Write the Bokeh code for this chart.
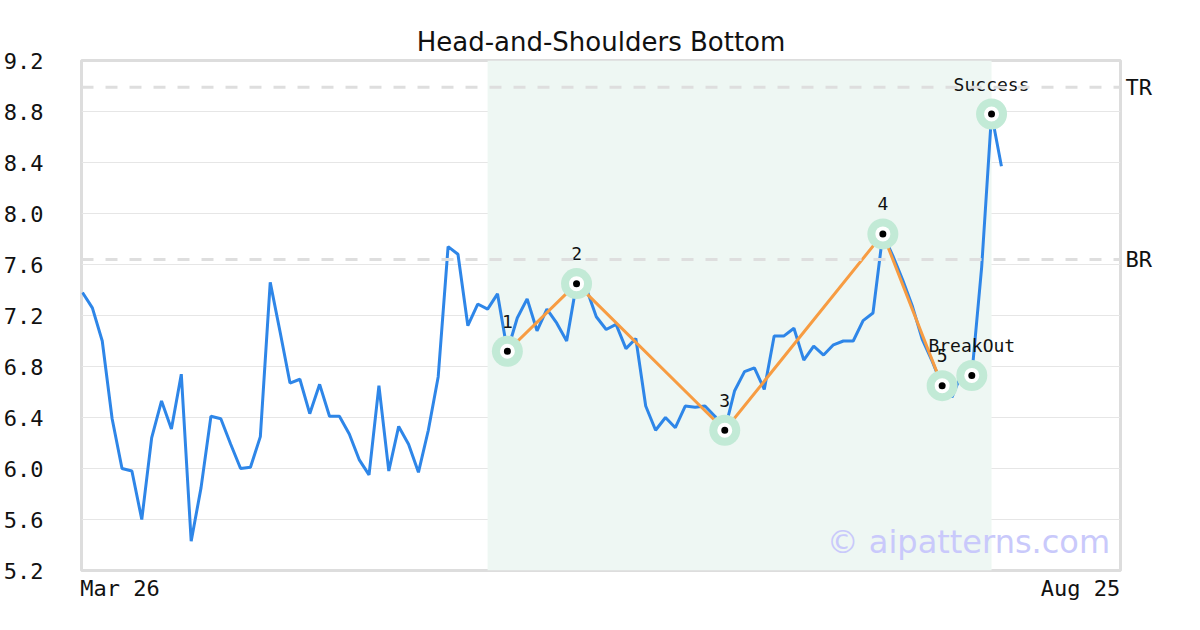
from bokeh.plotting import figure
from bokeh.models import (FixedTicker, LinearAxis, BoxAnnotation, Span, Label,
                          Range1d, ColumnDataSource)
from bokeh.core.properties import value
from bokeh.embed import file_html
from bokeh.resources import INLINE

# ---- data ----
prices = [7.38, 7.26, 7.00, 6.39, 6.00, 5.98, 5.60, 6.24, 6.53, 6.31,
          6.74, 5.43, 5.85, 6.41, 6.39, 6.19, 6.00, 6.01, 6.25, 7.46,
          7.07, 6.67, 6.70, 6.43, 6.66, 6.41, 6.41, 6.27, 6.07, 5.95,
          6.65, 5.98, 6.33, 6.19, 5.97, 6.30, 6.72, 7.74, 7.68, 7.12,
          7.29, 7.25, 7.37, 6.92, 7.18, 7.33, 7.08, 7.25, 7.14, 7.00,
          7.45, 7.41, 7.19, 7.09, 7.13, 6.94, 7.02, 6.49, 6.30, 6.40,
          6.32, 6.49, 6.48, 6.49, 6.41, 6.30, 6.61, 6.76, 6.79, 6.62,
          7.04, 7.04, 7.10, 6.85, 6.96, 6.89, 6.97, 7.00, 7.00, 7.16,
          7.22, 7.84, 7.67, 7.48, 7.27, 7.01, 6.84, 6.65, 6.56, 6.75,
          6.73, 7.58, 8.78, 8.37]
pattern_idx = [43, 50, 65, 81, 87]
pattern_labels = ["1", "2", "3", "4", "5"]
extra_idx = [90, 92]
extra_labels = ["BreakOut", "Success"]
tr_level = 8.99
br_level = 7.64
shade_start, shade_end = 41, 92
n_days = 105
x_tick_labels = ["Mar 26", "Aug 25"]
y_ticks = [5.2, 5.6, 6.0, 6.4, 6.8, 7.2, 7.6, 8.0, 8.4, 8.8, 9.2]

MONO = "DejaVu Sans Mono"
idx = list(range(len(prices)))

p = figure(width=1200, height=630, output_backend="svg", toolbar_location=None,
           x_range=Range1d(-0.1, n_days + 0.05), y_range=Range1d(5.2, 9.2),
           min_border_left=80, min_border_right=80, min_border_top=60,
           min_border_bottom=60, title="Head-and-Shoulders Bottom")
p.title.align = "center"
p.title.text_font = "DejaVu Sans"
p.title.text_font_size = "26px"
p.title.text_font_style = "normal"
p.title.text_color = "#111111"
p.title.standoff = 8
p.outline_line_color = "#dddddd"
p.outline_line_width = 3
p.background_fill_color = "white"
p.border_fill_color = "white"

p.xgrid.visible = False
p.ygrid.grid_line_color = "#e6e6e6"
p.ygrid.grid_line_width = 1

# left axis
ya = p.yaxis[0]
ya.ticker = FixedTicker(ticks=y_ticks)
ya.major_label_overrides = {t: f"{t:.1f}" for t in y_ticks}
ya.axis_line_color = None
ya.major_tick_line_color = None
ya.minor_tick_line_color = None
ya.major_tick_out = 0
ya.major_label_standoff = 38
ya.major_label_text_font = MONO
ya.major_label_text_font_size = "22px"
ya.major_label_text_color = "#111111"

# bottom axis
xa = p.xaxis[0]
xpos = [3.8, n_days - 4.0]
xa.ticker = FixedTicker(ticks=xpos)
xa.major_label_overrides = {xpos[i]: x_tick_labels[i] for i in range(2)}
xa.axis_line_color = None
xa.major_tick_line_color = None
xa.minor_tick_line_color = None
xa.major_tick_out = 0
xa.major_label_standoff = 5
xa.major_label_text_font = MONO
xa.major_label_text_font_size = "22px"
xa.major_label_text_color = "#111111"

# right axis for TR / BR
ra = LinearAxis(ticker=FixedTicker(ticks=[tr_level, br_level]),
                major_label_overrides={tr_level: "TR", br_level: "BR"})
ra.axis_line_color = None
ra.major_tick_line_color = None
ra.minor_tick_line_color = None
ra.major_tick_out = 0
ra.major_label_standoff = 5
ra.major_label_text_font = MONO
ra.major_label_text_font_size = "22px"
ra.major_label_text_color = "#111111"
p.add_layout(ra, "right")

# shading
p.add_layout(BoxAnnotation(left=shade_start, right=shade_end,
                           fill_color="#eef7f3", fill_alpha=1.0,
                           line_color=None, level="underlay"))
for lvl in (tr_level, br_level):
    p.add_layout(Span(location=lvl, dimension="width", line_color="#dedede",
                      line_width=3, line_dash="12 12"))

# price line
p.line(idx, prices, line_color="#2e86e8", line_width=3)

# pattern lines
px = pattern_idx
py = [prices[i] for i in pattern_idx]
p.line(px, py, line_color="#f79c42", line_width=3)

all_idx = pattern_idx + extra_idx
all_lab = pattern_labels + extra_labels
src = ColumnDataSource(dict(x=all_idx, y=[prices[i] for i in all_idx], t=all_lab))
p.scatter("x", "y", source=src, size=31, fill_color="#c2ead6", line_color=None)
p.scatter("x", "y", source=src, size=15, fill_color="white", line_color=None)
p.scatter("x", "y", source=src, size=7, fill_color="black", line_color=None)
p.text("x", "y", text="t", source=src, text_font=value(MONO),
       text_font_size="18px", text_align="center", text_baseline="middle",
       y_offset=-30, text_color="#111111")

p.add_layout(Label(x=104.0, y=5.42, text="\u00a9 aipatterns.com",
                   text_font="DejaVu Sans", text_font_size="32px",
                   text_color="#c9c9fb", text_align="right",
                   text_baseline="middle"))

open("out.html", "w").write(file_html(p, INLINE))
